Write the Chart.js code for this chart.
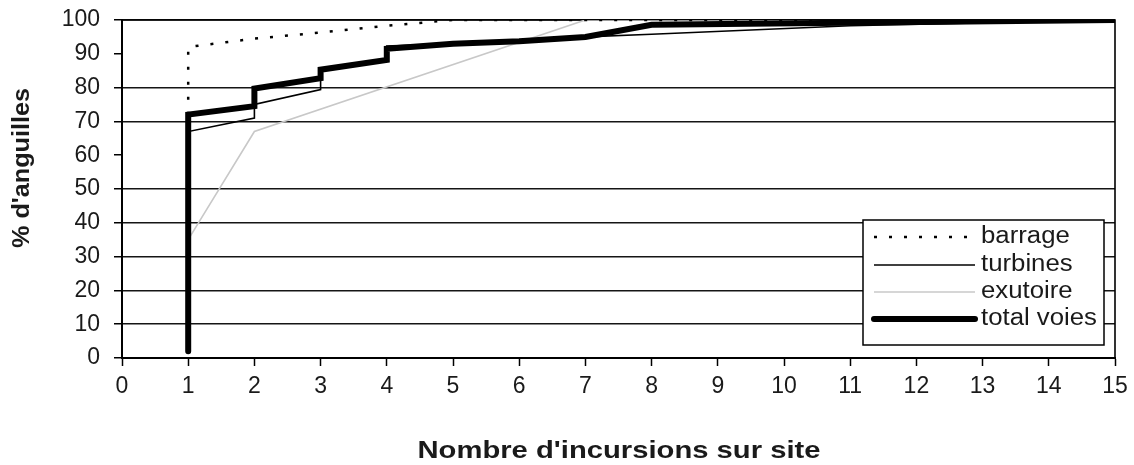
<!DOCTYPE html>
<html><head><meta charset="utf-8">
<script src="https://cdn.jsdelivr.net/npm/chart.js@4.4.0/dist/chart.umd.min.js"></script>
<style>html,body{margin:0;padding:0;background:#fff}#wrap{width:1134px;height:465px;position:relative}</style>
</head><body><div id="wrap"><canvas id="c" width="1134" height="465"></canvas></div>
<script>
const seriesNames = ['barrage', 'turbines', 'exutoire', 'total voies'];
const barrageX = [1, 1, 2, 3, 4, 5, 15];
const barrageY = [72, 92, 94.5, 96.3, 98.3, 100, 100];
const turbinesX = [1, 1, 2, 2, 3, 3, 4, 4, 5, 6, 7, 8, 11, 15];
const turbinesY = [2, 67, 71, 75, 79.4, 85, 88, 92.3, 93, 94, 95, 95.8, 98.3, 100];
const exutoireX = [1, 2, 7, 15];
const exutoireY = [35, 67, 100, 100];
const totalX = [1, 1, 2, 2, 3, 3, 4, 4, 5, 6, 7, 8, 15];
const totalY = [2, 72, 74.5, 79.7, 82.8, 85.3, 88.2, 91.5, 93, 93.7, 95, 98.6, 100];
const xTickValues = [0, 1, 2, 3, 4, 5, 6, 7, 8, 9, 10, 11, 12, 13, 14, 15];
const yTickValues = [0, 10, 20, 30, 40, 50, 60, 70, 80, 90, 100];
const yGridHidden = [60, 90];
const xTitle = "Nombre d'incursions sur site";
const yTitle = "% d'anguilles";

const FONT = "'Liberation Sans', Arial, sans-serif";
const pts = (xs, ys) => xs.map((x, i) => ({ x: x, y: ys[i] }));

const styles = [
  { borderColor: '#000', borderWidth: 2.5, borderDash: [3, 12], order: 2 },
  { borderColor: '#000', borderWidth: 1.6, order: 1 },
  { borderColor: '#c8c8c8', borderWidth: 1.6, order: 3 },
  { borderColor: '#000', borderWidth: 6, borderCapStyle: 'round', order: 0 }
];
const series = [pts(barrageX, barrageY), pts(turbinesX, turbinesY), pts(exutoireX, exutoireY), pts(totalX, totalY)];

const datasets = seriesNames.map((n, i) => Object.assign({
  label: n, data: series[i], pointRadius: 0, fill: false, tension: 0,
  borderJoinStyle: 'miter', showLine: true
}, styles[i]));

const yGridColors = yTickValues.map(v => yGridHidden.includes(v) ? 'rgba(0,0,0,0)' : '#151515');

const framePlugin = {
  id: 'frame',
  beforeDatasetsDraw(chart) {
    const { ctx, chartArea: a } = chart;
    ctx.save();
    ctx.strokeStyle = '#000';
    ctx.lineWidth = 1.6;
    ctx.beginPath();
    ctx.moveTo(a.left, a.top); ctx.lineTo(a.right, a.top); ctx.lineTo(a.right, a.bottom);
    ctx.stroke();
    ctx.restore();
  },
  afterDraw(chart) {
    const { ctx } = chart;
    const bx = 863, by = 220, bw = 241, bh = 125;
    ctx.save();
    ctx.fillStyle = '#fff';
    ctx.fillRect(bx, by, bw, bh);
    ctx.strokeStyle = '#000';
    ctx.lineWidth = 1.5;
    ctx.strokeRect(bx, by, bw, bh);
    const rows = [237, 265, 292, 319];
    chart.data.datasets.forEach((d, i) => {
      const y = rows[i];
      ctx.save();
      ctx.strokeStyle = d.borderColor;
      ctx.lineWidth = d.borderWidth;
      ctx.lineCap = d.borderCapStyle || 'butt';
      ctx.setLineDash(d.borderDash || []);
      ctx.beginPath();
      ctx.moveTo(874, y); ctx.lineTo(975, y);
      ctx.stroke();
      ctx.restore();
      ctx.save();
      ctx.fillStyle = '#1a1a1a';
      ctx.font = '23px ' + FONT;
      ctx.textBaseline = 'middle';
      ctx.textAlign = 'left';
      ctx.translate(981, y);
      ctx.scale(1.12, 1);
      ctx.fillText(d.label, 0, 0);
      ctx.restore();
    });
    ctx.save();
    ctx.fillStyle = '#1a1a1a';
    ctx.font = 'bold 24px ' + FONT;
    ctx.textAlign = 'center';
    ctx.textBaseline = 'middle';
    let w = ctx.measureText(xTitle).width;
    ctx.translate(619, 451);
    ctx.scale(403 / w, 1);
    ctx.fillText(xTitle, 0, 0);
    ctx.restore();
    ctx.save();
    ctx.fillStyle = '#1a1a1a';
    ctx.font = 'bold 23px ' + FONT;
    ctx.textAlign = 'center';
    ctx.textBaseline = 'middle';
    w = ctx.measureText(yTitle).width;
    ctx.translate(23, 168);
    ctx.rotate(-Math.PI / 2);
    ctx.scale(160 / w, 1);
    ctx.fillText(yTitle, 0, 0);
    ctx.restore();
    ctx.restore();
  }
};

new Chart(document.getElementById('c'), {
  type: 'line',
  data: { datasets: datasets },
  plugins: [framePlugin],
  options: {
    responsive: false,
    animation: false,
    layout: { padding: { left: 0, right: 19, top: 20, bottom: 0 } },
    plugins: { legend: { display: false }, tooltip: { enabled: false } },
    scales: {
      x: {
        type: 'linear', min: 0, max: 15,
        afterBuildTicks: s => { s.ticks = xTickValues.map(v => ({ value: v })); },
        afterFit: s => { s.height = 107; s.paddingLeft = 0; s.paddingRight = 0; },
        grid: { drawOnChartArea: false, tickLength: 8, tickColor: '#000', tickWidth: 1.5 },
        border: { display: true, color: '#000', width: 2 },
        ticks: { font: { family: FONT, size: 23 }, color: '#1a1a1a', padding: 7, maxRotation: 0, autoSkip: false }
      },
      y: {
        type: 'linear', min: 0, max: 100,
        afterBuildTicks: s => { s.ticks = yTickValues.map(v => ({ value: v })); },
        afterFit: s => { s.width = 122; s.paddingTop = 0; s.paddingBottom = 0; },
        grid: {
          color: yGridColors,
          lineWidth: 1.5, tickLength: 8, tickColor: '#000', tickWidth: 1.5
        },
        border: { display: true, color: '#000', width: 2 },
        ticks: { font: { family: FONT, size: 23 }, color: '#1a1a1a', padding: 14 }
      }
    }
  }
});
</script>
</body></html>
